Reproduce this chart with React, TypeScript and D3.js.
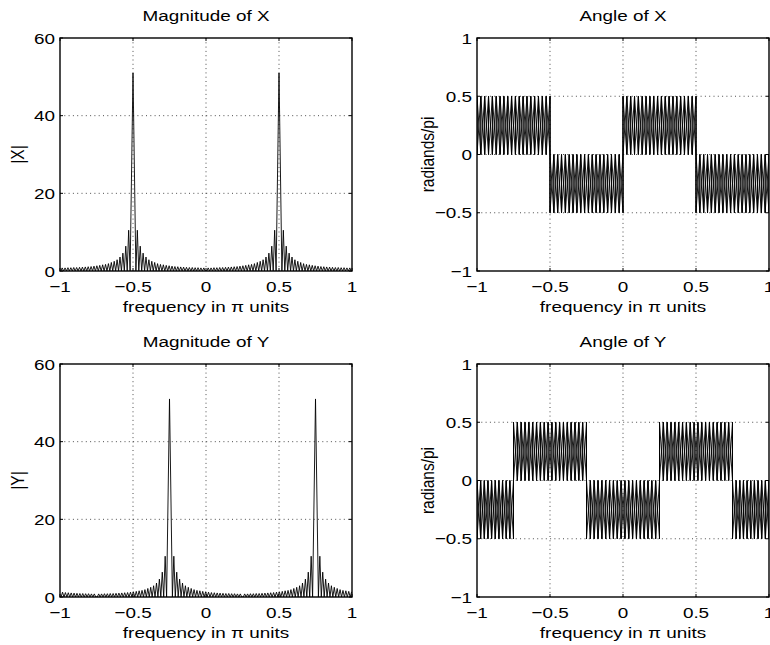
import React from 'react';
import * as d3 from 'd3';

// ---- data ----
const freqTicks = [-1, -0.5, 0, 0.5, 1];
const freqTickLabels = ['−1', '−0.5', '0', '0.5', '1'];
const magTicks = [0, 20, 40, 60];
const magTickLabels = ['0', '20', '40', '60'];
const angleTicks = [-1, -0.5, 0, 0.5, 1];
const angleTickLabels = ['−1', '−0.5', '0', '0.5', '1'];

const peaksX = [-0.5, 0.5];
const peaksY = [-0.25, 0.75];
const mainLobeHeight = 51;
const sidelobeHeights = [10.5, 6.4, 4.6, 3.6, 2.9, 2.5, 2.2, 1.9, 1.7, 1.6, 1.45, 1.35, 1.25, 1.15, 1.1, 1.05, 1.0, 0.95, 0.9, 0.9, 0.85, 0.85, 0.8, 0.8];
const lobeSpacing = 0.0198;

const angleBreaksX = [-1, -0.5, 0, 0.5, 1];
const angleSignsX = [1, -1, 1, -1];
const angleBreaksY = [-1, -0.75, -0.25, 0.25, 0.75, 1];
const angleSignsY = [-1, 1, -1, 1, -1];
const angleLevels = [0, 0.5];
const angleCycle = 0.026;

// ---- layout ----
const W = 770, H = 645;
const colLeft = [60, 477];
const rowTop = [38, 364];
const PW = 292, PH = 233;
const SX = 1.22;
const FS = 15.5;
const FONT = "'Liberation Sans', Arial, Helvetica, sans-serif";

type Pt = [number, number];

function magnitudeSeries(peaks: number[]): Pt[] {
  const pts: Pt[] = [];
  const wrap = (x: number) => (x > 1 ? x - 2 : x < -1 ? x + 2 : x);
  for (const p of peaks) {
    pts.push([wrap(p), mainLobeHeight]);
    for (const d of [-1, 1]) {
      pts.push([wrap(p + d * lobeSpacing), 0]);
      sidelobeHeights.forEach((h, i) => {
        const k = i + 1;
        pts.push([wrap(p + d * (k + 0.5) * lobeSpacing), h]);
        pts.push([wrap(p + d * (k + 1) * lobeSpacing), 0]);
      });
    }
  }
  pts.sort((a, b) => a[0] - b[0]);
  return pts;
}

function angleSeries(breaks: number[], signs: number[]): Pt[][] {
  const a: Pt[] = [], b: Pt[] = [];
  signs.forEach((sg, r) => {
    const lo = angleLevels[0] * sg, hi = angleLevels[1] * sg;
    const start = breaks[r], end = breaks[r + 1];
    const n = Math.round((end - start) / angleCycle);
    const step = (end - start) / n;
    for (let i = 0; i <= n; i++) {
      const x = start + i * step;
      a.push([x, lo], [x, hi]);
      b.push([x, hi], [x, lo]);
    }
  });
  return [a, b];
}

function T({ x, y, anchor = 'middle', rotate = false, children }: any) {
  return (
    <g transform={`translate(${x},${y}) scale(${SX},1)${rotate ? ' rotate(-90)' : ''}`}>
      <text textAnchor={anchor} fontSize={FS} fontFamily={FONT} fill="#000">{children}</text>
    </g>
  );
}

function Panel({ id, left, top, yDomain, yTicks, yTickLabels, title, ylabel, series, ylabelX }: any) {
  const x = d3.scaleLinear().domain([-1, 1]).range([left, left + PW]);
  const y = d3.scaleLinear().domain(yDomain).range([top + PH, top]);
  const line = d3.line<Pt>().x(d => x(d[0])).y(d => y(d[1]));
  const tl = 3;
  return (
    <g>
      <defs>
        <clipPath id={id}>
          <rect x={left} y={top} width={PW} height={PH} />
        </clipPath>
      </defs>
      {/* grid */}
      <g stroke="#222" strokeWidth={0.8} strokeDasharray="1,3.3">
        {freqTicks.slice(1, -1).map(t => (
          <line key={'gx' + t} x1={x(t)} x2={x(t)} y1={top} y2={top + PH} />
        ))}
        {yTicks.slice(1, -1).map((t: number) => (
          <line key={'gy' + t} x1={left} x2={left + PW} y1={y(t)} y2={y(t)} />
        ))}
      </g>
      {/* data */}
      <g clipPath={`url(#${id})`} fill="none" stroke="#000" strokeWidth={0.9}>
        {series.map((s: Pt[], i: number) => (
          <path key={i} d={line(s) || ''} />
        ))}
      </g>
      {/* box */}
      <rect x={left} y={top} width={PW} height={PH} fill="none" stroke="#000" strokeWidth={1.4} />
      {/* ticks */}
      <g stroke="#000" strokeWidth={1}>
        {freqTicks.map(t => (
          <g key={'tx' + t}>
            <line x1={x(t)} x2={x(t)} y1={top + PH} y2={top + PH - tl} />
            <line x1={x(t)} x2={x(t)} y1={top} y2={top + tl} />
          </g>
        ))}
        {yTicks.map((t: number) => (
          <g key={'ty' + t}>
            <line x1={left} x2={left + tl} y1={y(t)} y2={y(t)} />
            <line x1={left + PW} x2={left + PW - tl} y1={y(t)} y2={y(t)} />
          </g>
        ))}
      </g>
      {/* tick labels */}
      {freqTicks.map((t, i) => (
        <T key={'lx' + t} x={x(t)} y={top + PH + 21}>{freqTickLabels[i]}</T>
      ))}
      {yTicks.map((t: number, i: number) => (
        <T key={'ly' + t} x={left - 5} y={y(t) + 5.5} anchor="end">{yTickLabels[i]}</T>
      ))}
      <T x={left + PW / 2} y={top - 17}>{title}</T>
      <T x={left + PW / 2} y={top + PH + 41}>frequency in π units</T>
      <T x={ylabelX} y={top + PH / 2} rotate>{ylabel}</T>
    </g>
  );
}

export default function App() {
  const magX = magnitudeSeries(peaksX);
  const magY = magnitudeSeries(peaksY);
  const angX = angleSeries(angleBreaksX, angleSignsX);
  const angY = angleSeries(angleBreaksY, angleSignsY);
  return (
    <svg width={W} height={H} style={{ position: 'absolute', left: 0, top: 0, background: '#fff' }}>
      <rect x={0} y={0} width={W} height={H} fill="#fff" />
      <Panel id="c1" left={colLeft[0]} top={rowTop[0]} yDomain={[0, 60]} yTicks={magTicks} yTickLabels={magTickLabels}
        title="Magnitude of X" ylabel="|X|" series={[magX]} ylabelX={24} />
      <Panel id="c2" left={colLeft[1]} top={rowTop[0]} yDomain={[-1, 1]} yTicks={angleTicks} yTickLabels={angleTickLabels}
        title="Angle of X" ylabel="radiands/pi" series={angX} ylabelX={434} />
      <Panel id="c3" left={colLeft[0]} top={rowTop[1]} yDomain={[0, 60]} yTicks={magTicks} yTickLabels={magTickLabels}
        title="Magnitude of Y" ylabel="|Y|" series={[magY]} ylabelX={24} />
      <Panel id="c4" left={colLeft[1]} top={rowTop[1]} yDomain={[-1, 1]} yTicks={angleTicks} yTickLabels={angleTickLabels}
        title="Angle of Y" ylabel="radians/pi" series={angY} ylabelX={434} />
    </svg>
  );
}
